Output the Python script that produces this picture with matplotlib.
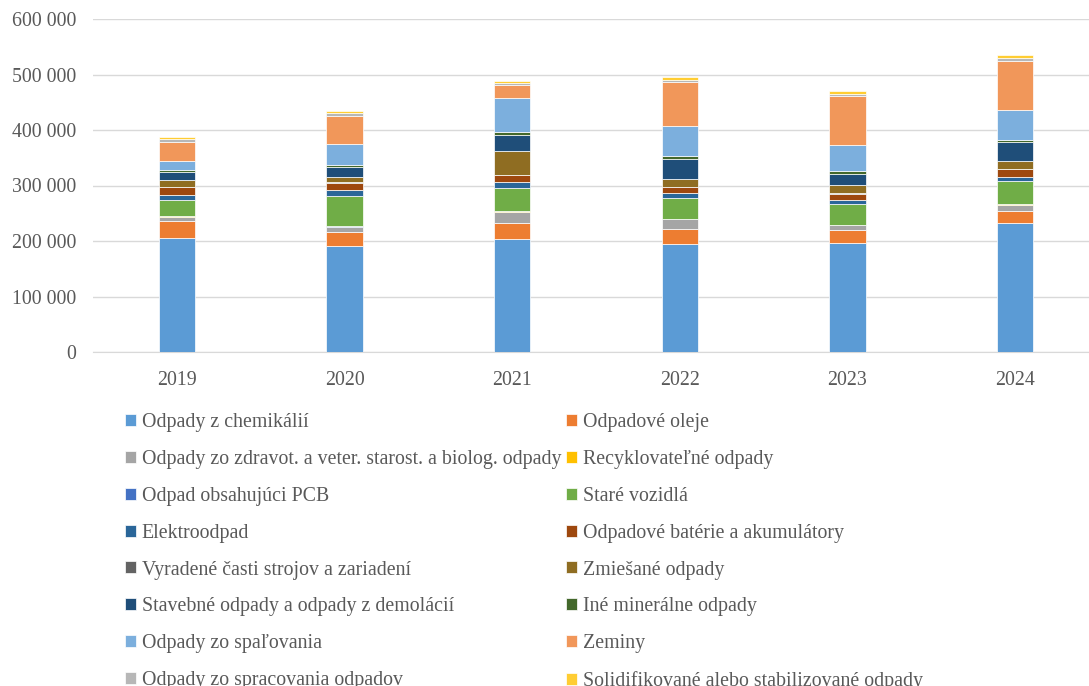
import matplotlib
matplotlib.use("Agg")
import matplotlib.pyplot as plt
from matplotlib.ticker import FuncFormatter
import numpy as np

years = ['2019', '2020', '2021', '2022', '2023', '2024']

labels = [
    'Odpady z chemikálií',
    'Odpadové oleje',
    'Odpady zo zdravot. a veter. starost. a biolog. odpady',
    'Recyklovateľné odpady',
    'Odpad obsahujúci PCB',
    'Staré vozidlá',
    'Elektroodpad',
    'Odpadové batérie a akumulátory',
    'Vyradené časti strojov a zariadení',
    'Zmiešané odpady',
    'Stavebné odpady a odpady z demolácií',
    'Iné minerálne odpady',
    'Odpady zo spaľovania',
    'Zeminy',
    'Odpady zo spracovania odpadov',
    'Solidifikované alebo stabilizované odpady',
]

chemikalie = [206000, 191000, 204000, 194000, 196000, 232000]
oleje = [30000, 26000, 28000, 27000, 23000, 22000]
zdravot = [8000, 8000, 21000, 18000, 9000, 11000]
recyklovatelne = [1000, 1000, 1000, 1000, 1000, 1000]
pcb = [500, 500, 500, 500, 500, 500]
vozidla = [29000, 55000, 41000, 37000, 37000, 41000]
elektroodpad = [9000, 11000, 10000, 9000, 8000, 8000]
baterie = [13000, 12000, 13000, 10000, 11000, 14000]
vyradene = [1000, 1000, 1000, 1000, 1000, 1000]
zmiesane = [13000, 10000, 42000, 15000, 15000, 13000]
stavebne = [13000, 17000, 30000, 35000, 20000, 35000]
ine_mineralne = [5000, 4000, 5000, 5000, 4000, 4000]
spalovanie = [15000, 38000, 62000, 55000, 47000, 53000]
zeminy = [35000, 51000, 22000, 79000, 88000, 88000]
spracovanie = [5000, 5000, 4000, 4000, 4000, 6000]
solidifikovane = [4000, 4000, 4000, 5000, 5000, 5000]

series = [chemikalie, oleje, zdravot, recyklovatelne, pcb, vozidla, elektroodpad,
          baterie, vyradene, zmiesane, stavebne, ine_mineralne, spalovanie, zeminy,
          spracovanie, solidifikovane]

colors = ['#5B9BD5', '#ED7D31', '#A5A5A5', '#FFC000', '#4472C4', '#70AD47',
          '#2A6699', '#9E480E', '#636363', '#8F6D22', '#1F4E79', '#43682B',
          '#7CAFDD', '#F1975A', '#B7B7B7', '#FFCD33']

plt.rcParams['font.family'] = ['Liberation Serif', 'DejaVu Serif']
text_color = '#595959'
fs = 14.3

fig = plt.figure(figsize=(10.89, 6.86), dpi=100)
ax = fig.add_axes([93 / 1089, 334 / 686, 1006 / 1089, 333 / 686])

x = np.arange(len(years))
bottom = np.zeros(len(years))
handles = []
for vals, lab, col in zip(series, labels, colors):
    b = ax.bar(x, vals, width=0.215, bottom=bottom, color=col, label=lab,
               edgecolor='white', linewidth=0.5, zorder=3)
    handles.append(b)
    bottom += np.array(vals)

ax.set_xlim(-0.5, 5.5)
ax.set_ylim(0, 600000)
ax.set_yticks(np.arange(0, 600001, 100000))
ax.yaxis.set_major_formatter(FuncFormatter(lambda v, p: f'{int(v):,}'.replace(',', ' ')))
ax.set_xticks(x)
ax.set_xticklabels(years)
ax.grid(axis='y', color='#D9D9D9', linewidth=1, zorder=0)
for s in ['top', 'right', 'left']:
    ax.spines[s].set_visible(False)
ax.spines['bottom'].set_color('#D9D9D9')
ax.tick_params(axis='both', length=0, labelsize=fs, colors=text_color)
ax.tick_params(axis='y', pad=12)
ax.tick_params(axis='x', pad=14)

# legend: reference fills row-wise in 2 columns; matplotlib fills column-wise
order = list(range(0, 16, 2)) + list(range(1, 16, 2))
leg = fig.legend([handles[i] for i in order], [labels[i] for i in order],
                 ncol=2, loc='upper left', bbox_to_anchor=(125 / 1089, 1 - 413 / 686),
                 frameon=False, fontsize=fs, handlelength=0.55, handleheight=0.55,
                 handletextpad=0.3, columnspacing=0.25, labelspacing=0.9,
                 borderaxespad=0, borderpad=0)
for t in leg.get_texts():
    t.set_color(text_color)

fig.savefig('out.png', dpi=100)
